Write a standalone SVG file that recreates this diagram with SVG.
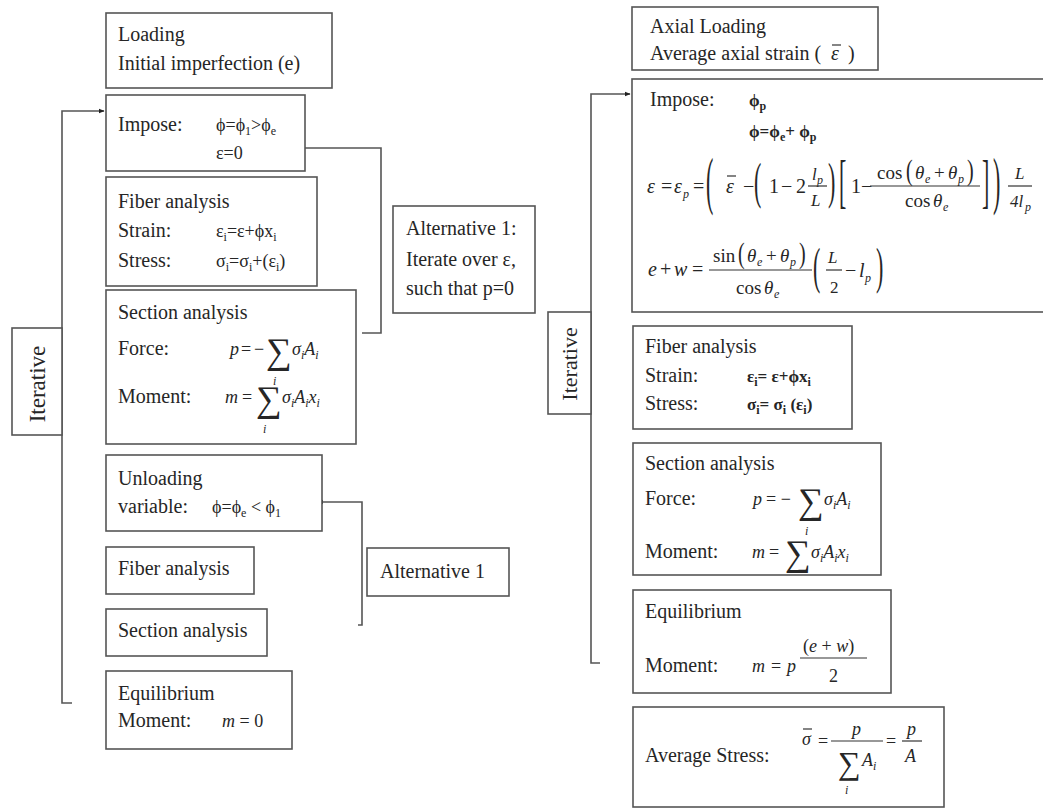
<svg xmlns="http://www.w3.org/2000/svg" width="1043" height="812" viewBox="0 0 1043 812">
<style>
.box{fill:#fff;stroke:#555;stroke-width:1.6}
.t{font-family:"Liberation Serif","Times New Roman",serif;font-size:20px;fill:#262626}
.f{font-size:18px}
.i{font-style:italic}
.b{font-weight:bold;font-size:17px}
.s{font-size:12px}
.sg{font-size:36px}
.c{fill:none;stroke:#555;stroke-width:1.6}
.bar{stroke:#333;stroke-width:1.2}
</style>
<defs>
<marker id="ah" viewBox="0 0 10 10" refX="9" refY="5" markerWidth="6" markerHeight="6" orient="auto" markerUnits="userSpaceOnUse">
<path d="M0,1 L10,5 L0,9 z" fill="#222"/>
</marker>
</defs>
<rect width="1043" height="812" fill="#fff"/>

<g id="connectors">
<path class="c" d="M72,703 H62 V111 H104" marker-end="url(#ah)"/>
<path class="c" d="M362,333 H381 V148 H297" marker-end="url(#ah)"/>
<path class="c" d="M358,625 H362 V502 H318" marker-end="url(#ah)"/>
<path class="c" d="M600,663 H591 V94 H630" marker-end="url(#ah)"/>
</g>

<g id="iterative-left">
<rect class="box" x="12" y="328" width="50" height="107"/>
<text class="t" text-anchor="middle" transform="translate(45,384) rotate(-90)" style="font-size:23px">Iterative</text>
</g>

<g id="loading">
<rect class="box" x="106" y="13" width="226" height="75"/>
<text class="t" x="118" y="41">Loading</text>
<text class="t" x="118" y="70">Initial imperfection (e)</text>
</g>

<g id="impose-left">
<rect class="box" x="106" y="95" width="199" height="76"/>
<text class="t" x="118" y="131">Impose:</text>
<text class="t f" x="216" y="131">ϕ=ϕ<tspan class="s" dy="4">1</tspan><tspan dy="-4">&gt;ϕ</tspan><tspan class="s" dy="4">e</tspan></text>
<text class="t f" x="216" y="159">ε=0</text>
</g>

<g id="fiber-left">
<rect class="box" x="106" y="177" width="211" height="109"/>
<text class="t" x="118" y="208">Fiber analysis</text>
<text class="t" x="118" y="237">Strain:</text>
<text class="t" x="118" y="267">Stress:</text>
<text class="t f" x="216" y="237">ε<tspan class="s" dy="4">i</tspan><tspan dy="-4">=ε+ϕx</tspan><tspan class="s" dy="4">i</tspan></text>
<text class="t f" x="216" y="267">σ<tspan class="s" dy="4">i</tspan><tspan dy="-4">=σ</tspan><tspan class="s" dy="4">i</tspan><tspan dy="-4">+(ε</tspan><tspan class="s" dy="4">i</tspan><tspan dy="-4">)</tspan></text>
</g>

<g id="section-left">
<rect class="box" x="106" y="290" width="250" height="154"/>
<text class="t" x="118" y="319">Section analysis</text>
<text class="t" x="118" y="355">Force:</text>
<text class="t" x="118" y="403">Moment:</text>
<text class="t f i" x="230" y="355">p</text>
<text class="t f" x="241" y="355">=</text>
<text class="t f" x="254" y="355">−</text>
<text class="t sg" x="266" y="363">∑</text>
<text class="t s i" x="273" y="385">i</text>
<text class="t f i" x="292" y="355">σ<tspan class="s" dy="4">i</tspan><tspan dy="-4">A</tspan><tspan class="s" dy="4">i</tspan></text>
<text class="t f i" x="225" y="403">m</text>
<text class="t f" x="242" y="403">=</text>
<text class="t sg" x="256" y="411">∑</text>
<text class="t s i" x="263" y="433">i</text>
<text class="t f i" x="282" y="403">σ<tspan class="s" dy="4">i</tspan><tspan dy="-4">A</tspan><tspan class="s" dy="4">i</tspan><tspan dy="-4">x</tspan><tspan class="s" dy="4">i</tspan></text>
</g>

<g id="unloading">
<rect class="box" x="106" y="455" width="216" height="76"/>
<text class="t" x="118" y="485">Unloading</text>
<text class="t" x="118" y="513">variable:</text>
<text class="t f" x="212" y="513">ϕ=ϕ<tspan class="s" dy="4">e</tspan><tspan dy="-4"> &lt; ϕ</tspan><tspan class="s" dy="4">1</tspan></text>
</g>

<g id="fiber-left-2">
<rect class="box" x="106" y="547" width="148" height="47"/>
<text class="t" x="118" y="575">Fiber analysis</text>
</g>

<g id="section-left-2">
<rect class="box" x="106" y="609" width="161" height="47"/>
<text class="t" x="118" y="637">Section analysis</text>
</g>

<g id="equilibrium-left">
<rect class="box" x="106" y="671" width="186" height="78"/>
<text class="t" x="118" y="700">Equilibrium</text>
<text class="t" x="118" y="727">Moment:</text>
<text class="t f" x="222" y="727"><tspan class="i">m</tspan> = 0</text>
</g>

<g id="alternative-1-top">
<rect class="box" x="393" y="206" width="142" height="107"/>
<text class="t" x="406" y="235">Alternative 1:</text>
<text class="t" x="406" y="266">Iterate over ε,</text>
<text class="t" x="406" y="295">such that p=0</text>
</g>

<g id="alternative-1-bottom">
<rect class="box" x="367" y="548" width="142" height="48"/>
<text class="t" x="380" y="578">Alternative 1</text>
</g>

<g id="iterative-right">
<rect class="box" x="548" y="312" width="43" height="102"/>
<text class="t" text-anchor="middle" transform="translate(577,364) rotate(-90)" style="font-size:22px">Iterative</text>
</g>

<g id="axial-loading">
<rect class="box" x="632" y="7" width="246" height="63"/>
<text class="t" x="650" y="33">Axial Loading</text>
<text class="t" x="650" y="60">Average axial strain (</text>
<text class="t i" x="831" y="60">ε</text>
<line class="bar" x1="832" y1="45" x2="841" y2="45"/>
<text class="t" x="848" y="60">)</text>
</g>

<g id="impose-right">
<rect class="box" x="632" y="79" width="420" height="233"/>
<text class="t" x="650" y="106">Impose:</text>
<text class="t b" x="749" y="106">ϕ<tspan class="s" dy="4">p</tspan></text>
<text class="t b" x="749" y="137">ϕ=ϕ<tspan class="s" dy="4">e</tspan><tspan dy="-4">+ ϕ</tspan><tspan class="s" dy="4">p</tspan></text>
<!-- line 1 -->
<text class="t i" x="647" y="193">ε</text>
<text class="t" x="661" y="193">=</text>
<text class="t i" x="674" y="193">ε</text>
<text class="t s i" x="683" y="198">p</text>
<text class="t" x="693" y="193">=</text>
<text class="t" transform="translate(706,202) scale(1.1,3.2)">(</text>
<text class="t i" x="726" y="193">ε</text>
<line class="bar" x1="727" y1="176" x2="736" y2="176"/>
<text class="t" x="743" y="193">−</text>
<text class="t" transform="translate(754,198) scale(1.1,2.5)">(</text>
<text class="t" x="769" y="193">1</text>
<text class="t" x="781" y="193">−</text>
<text class="t" x="796" y="193">2</text>
<text class="t i" style="font-size:17px" x="812" y="180">l</text>
<text class="t s i" x="817" y="184">p</text>
<line class="bar" x1="808" y1="186" x2="827" y2="186"/>
<text class="t i" style="font-size:17px" x="811" y="206">L</text>
<text class="t" transform="translate(828,198) scale(1.1,2.5)">)</text>
<text class="t" transform="translate(839,201) scale(1.1,3.0)">[</text>
<text class="t" x="851" y="193">1</text>
<text class="t" x="861" y="193">−</text>
<line class="bar" x1="870" y1="186" x2="980" y2="186"/>
<text class="t" style="font-size:19px" x="877" y="179">cos</text>
<text class="t" transform="translate(906,180) scale(1,1.5)">(</text>
<text class="t i" style="font-size:19px" x="915" y="179">θ</text>
<text class="t s i" x="925" y="183">e</text>
<text class="t" style="font-size:19px" x="934" y="179">+</text>
<text class="t i" style="font-size:19px" x="948" y="179">θ</text>
<text class="t s i" x="958" y="183">p</text>
<text class="t" transform="translate(967,180) scale(1,1.5)">)</text>
<text class="t" style="font-size:19px" x="905" y="207">cos</text>
<text class="t i" style="font-size:19px" x="933" y="207">θ</text>
<text class="t s i" x="943" y="211">e</text>
<text class="t" transform="translate(982,201) scale(1.1,3.0)">]</text>
<text class="t" transform="translate(993,202) scale(1.1,3.2)">)</text>
<line class="bar" x1="1008" y1="186" x2="1032" y2="186"/>
<text class="t i" style="font-size:17px" x="1015" y="179">L</text>
<text class="t i" style="font-size:17px" x="1010" y="207">4l</text>
<text class="t s i" x="1025" y="211">p</text>
<!-- line 2 -->
<text class="t i" x="648" y="276">e</text>
<text class="t" x="660" y="276">+</text>
<text class="t i" x="674" y="276">w</text>
<text class="t" x="692" y="276">=</text>
<line class="bar" x1="709" y1="270" x2="812" y2="270"/>
<text class="t" style="font-size:19px" x="713" y="262">sin</text>
<text class="t" transform="translate(738,263) scale(1,1.5)">(</text>
<text class="t i" style="font-size:19px" x="747" y="262">θ</text>
<text class="t s i" x="757" y="266">e</text>
<text class="t" style="font-size:19px" x="766" y="262">+</text>
<text class="t i" style="font-size:19px" x="780" y="262">θ</text>
<text class="t s i" x="790" y="266">p</text>
<text class="t" transform="translate(799,263) scale(1,1.5)">)</text>
<text class="t" style="font-size:19px" x="736" y="294">cos</text>
<text class="t i" style="font-size:19px" x="764" y="294">θ</text>
<text class="t s i" x="774" y="298">e</text>
<text class="t" transform="translate(813,283) scale(1.1,2.5)">(</text>
<text class="t i" style="font-size:17px" x="828" y="263">L</text>
<line class="bar" x1="826" y1="270" x2="842" y2="270"/>
<text class="t" style="font-size:17px" x="830" y="293">2</text>
<text class="t" x="845" y="277">−</text>
<text class="t i" x="859" y="277">l</text>
<text class="t s i" x="865" y="282">p</text>
<text class="t" transform="translate(876,283) scale(1.1,2.5)">)</text>
</g>

<g id="fiber-right">
<rect class="box" x="633" y="326" width="219" height="103"/>
<text class="t" x="645" y="353">Fiber analysis</text>
<text class="t" x="645" y="382">Strain:</text>
<text class="t" x="645" y="410">Stress:</text>
<text class="t b" x="747" y="382">ε<tspan class="s" dy="4">i</tspan><tspan dy="-4">= ε+ϕx</tspan><tspan class="s" dy="4">i</tspan></text>
<text class="t b" x="747" y="410">σ<tspan class="s" dy="4">i</tspan><tspan dy="-4">= σ</tspan><tspan class="s" dy="4">i</tspan><tspan dy="-4"> (ε</tspan><tspan class="s" dy="4">i</tspan><tspan dy="-4">)</tspan></text>
</g>

<g id="section-right">
<rect class="box" x="633" y="443" width="248" height="132"/>
<text class="t" x="645" y="470">Section analysis</text>
<text class="t" x="645" y="505">Force:</text>
<text class="t" x="645" y="558">Moment:</text>
<text class="t f i" x="753" y="505">p</text>
<text class="t f" x="766" y="505">= −</text>
<text class="t sg" x="798" y="513">∑</text>
<text class="t s i" x="805" y="535">i</text>
<text class="t f i" x="824" y="505">σ<tspan class="s" dy="4">i</tspan><tspan dy="-4">A</tspan><tspan class="s" dy="4">i</tspan></text>
<text class="t f i" x="752" y="558">m</text>
<text class="t f" x="769" y="558">=</text>
<text class="t sg" x="785" y="565">∑</text>
<text class="t f i" x="811" y="558">σ<tspan class="s" dy="4">i</tspan><tspan dy="-4">A</tspan><tspan class="s" dy="4">i</tspan><tspan dy="-4">x</tspan><tspan class="s" dy="4">i</tspan></text>
</g>

<g id="equilibrium-right">
<rect class="box" x="633" y="590" width="258" height="103"/>
<text class="t" x="645" y="618">Equilibrium</text>
<text class="t" x="645" y="672">Moment:</text>
<text class="t f i" x="752" y="672">m</text>
<text class="t f" x="771" y="672">=</text>
<text class="t f i" x="787" y="672">p</text>
<line class="bar" x1="800" y1="658" x2="867" y2="658"/>
<text class="t f" x="803" y="652">(<tspan class="i">e</tspan> + <tspan class="i">w</tspan>)</text>
<text class="t f" x="829" y="682">2</text>
</g>

<g id="average-stress">
<rect class="box" x="633" y="707" width="311" height="100"/>
<text class="t" x="645" y="762">Average Stress:</text>
<text class="t f i" x="802" y="745">σ</text>
<line class="bar" x1="803" y1="729" x2="812" y2="729"/>
<text class="t f" x="818" y="747">=</text>
<line class="bar" x1="831" y1="741" x2="883" y2="741"/>
<text class="t f i" x="852" y="735">p</text>
<text class="t" style="font-size:32px" x="838" y="774">∑</text>
<text class="t f i" x="862" y="766">A<tspan class="s" dy="4">i</tspan></text>
<text class="t s i" x="845" y="794">i</text>
<text class="t f" x="886" y="747">=</text>
<line class="bar" x1="902" y1="741" x2="922" y2="741"/>
<text class="t f i" x="907" y="735">p</text>
<text class="t f i" x="905" y="762">A</text>
</g>
</svg>
